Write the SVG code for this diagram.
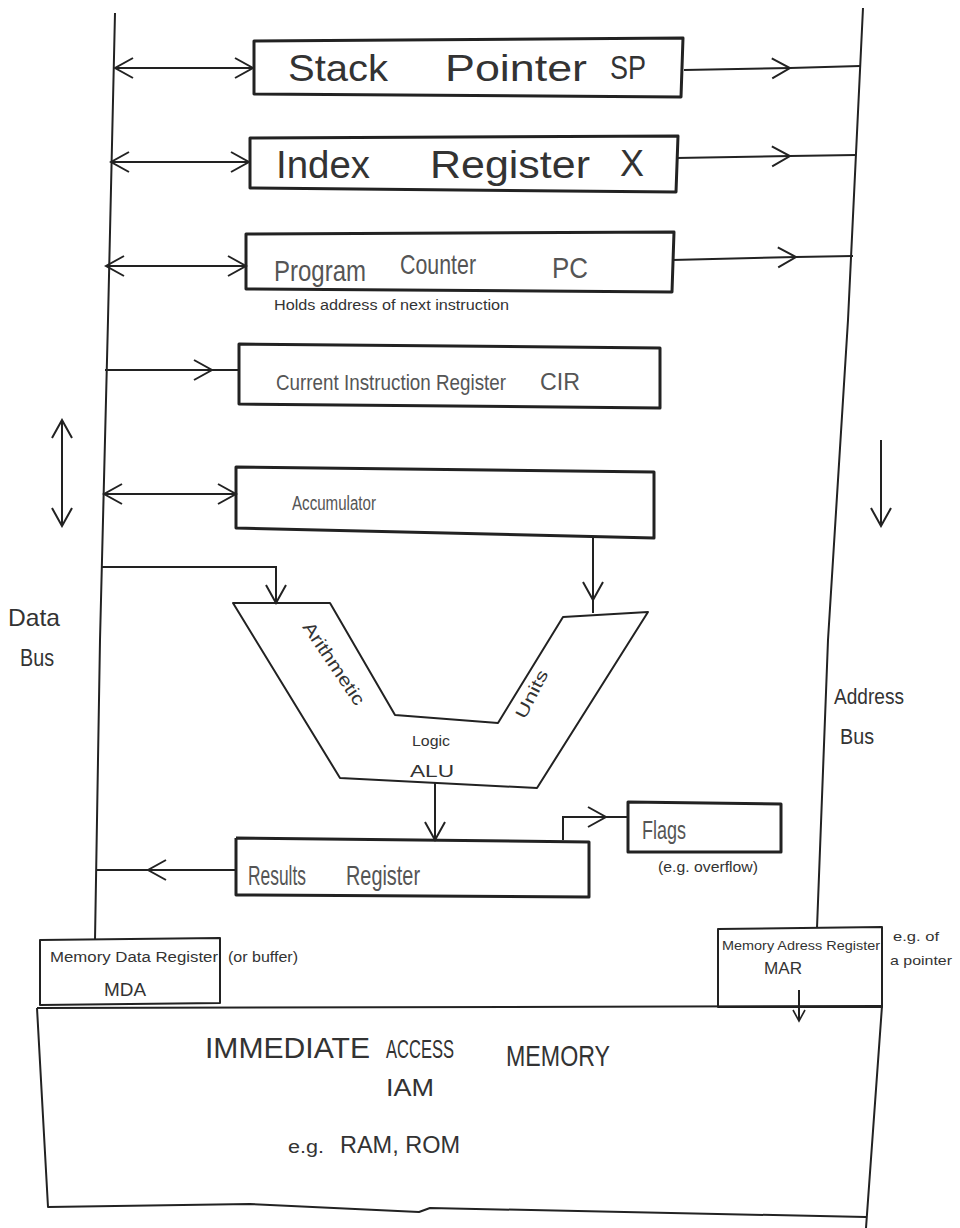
<svg xmlns="http://www.w3.org/2000/svg" width="960" height="1228" viewBox="0 0 960 1228">
<style>
  .box{fill:none;stroke:#222;stroke-width:3;stroke-linejoin:round}
  .thin{fill:none;stroke:#222;stroke-width:2;stroke-linejoin:round}
  .bus{fill:none;stroke:#222;stroke-width:2}
  .ln{fill:none;stroke:#222;stroke-width:2}
  .t{font-family:"Liberation Sans","DejaVu Sans",sans-serif;fill:#333}
  .tl{font-family:"Liberation Sans","DejaVu Sans",sans-serif;fill:#555}
</style>
<defs>
  <marker id="ah" viewBox="0 0 22 24" refX="20" refY="12" markerWidth="22" markerHeight="24" markerUnits="userSpaceOnUse" orient="auto-start-reverse">
    <path d="M2,2 L20,12 L2,22" fill="none" stroke="#222" stroke-width="2"/>
  </marker>
  <marker id="ahs" viewBox="0 0 14 14" refX="12" refY="7" markerWidth="14" markerHeight="14" markerUnits="userSpaceOnUse" orient="auto">
    <path d="M1,1 L12,7 L1,13" fill="none" stroke="#222" stroke-width="1.6"/>
  </marker>
</defs>
<rect width="960" height="1228" fill="#fff"/>

<g id="connectors">
  <!-- buses -->
  <polyline class="bus" points="115,13 108,320 100,640 95,940"/>
  <polyline class="bus" points="863,8 848,320 828,640 817,928"/>
  <!-- SP -->
  <path class="ln" d="M115,68 L253,68" marker-start="url(#ah)" marker-end="url(#ah)"/>
  <path class="ln" d="M684,70 L790,68 L860,66" marker-mid="url(#ah)"/>
  <!-- IX -->
  <path class="ln" d="M111,162 L249,162" marker-start="url(#ah)" marker-end="url(#ah)"/>
  <path class="ln" d="M676,158 L790,156 L856,155" marker-mid="url(#ah)"/>
  <!-- PC -->
  <path class="ln" d="M106,266 L246,266" marker-start="url(#ah)" marker-end="url(#ah)"/>
  <path class="ln" d="M672,260 L796,257 L853,256" marker-mid="url(#ah)"/>
  <!-- CIR -->
  <path class="ln" d="M105,370 L212,370 L239,370" marker-mid="url(#ah)"/>
  <!-- Accumulator -->
  <path class="ln" d="M104,494 L236,494" marker-start="url(#ah)" marker-end="url(#ah)"/>
  <!-- bus direction arrows -->
  <path class="ln" d="M62,420 L62,526" marker-start="url(#ah)" marker-end="url(#ah)"/>
  <path class="ln" d="M881,440 L881,526" marker-end="url(#ah)"/>
  <!-- data bus to ALU -->
  <path class="ln" d="M102,567 L276,567 L276,603" marker-end="url(#ah)"/>
  <!-- accumulator to ALU -->
  <path class="ln" d="M593,538 L593,600 L593,613" marker-mid="url(#ah)"/>
  <!-- ALU to results -->
  <path class="ln" d="M435,783 L435,840" marker-end="url(#ah)"/>
  <!-- results to flags -->
  <path class="ln" d="M563,840 L563,817 L606,817" marker-end="url(#ah)"/>
  <path class="ln" d="M606,817 L628,817"/>
  <!-- results to data bus -->
  <path class="ln" d="M236,870 L148,870 L97,870" marker-mid="url(#ah)"/>
  <!-- MAR to memory -->
  <path class="ln" d="M799,990 L799,1021" marker-end="url(#ahs)"/>
</g>

<g id="stack-pointer">
  <polygon class="box" points="254,41 683,38 681,97 254,94"/>
  <text class="t" x="288" y="81" font-size="36" textLength="100" lengthAdjust="spacingAndGlyphs">Stack</text>
  <text class="t" x="445" y="81" font-size="36" textLength="142" lengthAdjust="spacingAndGlyphs">Pointer</text>
  <text class="t" x="610" y="79" font-size="34" textLength="36" lengthAdjust="spacingAndGlyphs">SP</text>
</g>

<g id="index-register">
  <polygon class="box" points="250,138 678,136 676,192 250,188"/>
  <text class="t" x="276" y="178" font-size="38" textLength="94" lengthAdjust="spacingAndGlyphs">Index</text>
  <text class="t" x="430" y="178" font-size="38" textLength="160" lengthAdjust="spacingAndGlyphs">Register</text>
  <text class="t" x="620" y="176" font-size="36" textLength="24" lengthAdjust="spacingAndGlyphs">X</text>
</g>

<g id="program-counter">
  <polygon class="box" points="246,234 674,232 672,292 246,289"/>
  <text class="tl" x="274" y="281" font-size="30" textLength="92" lengthAdjust="spacingAndGlyphs">Program</text>
  <text class="tl" x="400" y="274" font-size="28" textLength="76" lengthAdjust="spacingAndGlyphs">Counter</text>
  <text class="tl" x="552" y="278" font-size="30" textLength="36" lengthAdjust="spacingAndGlyphs">PC</text>
  <text class="t" x="274" y="310" font-size="14" textLength="235" lengthAdjust="spacingAndGlyphs">Holds address of next instruction</text>
</g>

<g id="current-instruction-register">
  <polygon class="box" points="239,344 660,348 660,408 239,404"/>
  <text class="tl" font-size="18" transform="translate(276,390) scale(1,1.25)" textLength="230" lengthAdjust="spacingAndGlyphs">Current Instruction Register</text>
  <text class="tl" x="540" y="390" font-size="24" textLength="40" lengthAdjust="spacingAndGlyphs">CIR</text>
</g>

<g id="accumulator">
  <polygon class="box" points="236,467 654,472 654,538 236,528"/>
  <text class="tl" x="292" y="510" font-size="20" textLength="84" lengthAdjust="spacingAndGlyphs">Accumulator</text>
</g>

<g id="alu">
  <polygon class="thin" points="233,603 330,603 395,715 498,723 563,617 648,612 537,788 340,778"/>
  <text class="t" font-size="18" transform="translate(302,627) rotate(56)" textLength="96" lengthAdjust="spacingAndGlyphs">Arithmetic</text>
  <text class="t" font-size="17" transform="translate(525,720) rotate(-63)" textLength="52" lengthAdjust="spacingAndGlyphs">Units</text>
  <text class="t" x="412" y="746" font-size="15" textLength="38" lengthAdjust="spacingAndGlyphs">Logic</text>
  <text class="t" x="410" y="777" font-size="16" textLength="44" lengthAdjust="spacingAndGlyphs">ALU</text>
</g>

<g id="results-register">
  <polyline class="box" points="236,838 589,842 589,897 236,895 236,838"/>
  <text class="tl" x="248" y="885" font-size="28" textLength="58" lengthAdjust="spacingAndGlyphs">Results</text>
  <text class="tl" x="346" y="885" font-size="28" textLength="74" lengthAdjust="spacingAndGlyphs">Register</text>
</g>

<g id="flags">
  <polygon class="box" points="628,802 781,804 781,852 628,852"/>
  <text class="tl" x="642" y="839" font-size="26" textLength="44" lengthAdjust="spacingAndGlyphs">Flags</text>
  <text class="t" x="658" y="872" font-size="14" textLength="100" lengthAdjust="spacingAndGlyphs">(e.g. overflow)</text>
</g>

<g id="bus-labels">
  <text class="t" x="8" y="626" font-size="24" textLength="52" lengthAdjust="spacingAndGlyphs">Data</text>
  <text class="t" x="20" y="666" font-size="24" textLength="34" lengthAdjust="spacingAndGlyphs">Bus</text>
  <text class="t" x="834" y="704" font-size="22" textLength="70" lengthAdjust="spacingAndGlyphs">Address</text>
  <text class="t" x="840" y="744" font-size="22" textLength="34" lengthAdjust="spacingAndGlyphs">Bus</text>
</g>

<g id="mdr">
  <polygon class="thin" points="40,940 220,938 220,1003 40,1005"/>
  <text class="t" x="50" y="962" font-size="14" textLength="168" lengthAdjust="spacingAndGlyphs">Memory Data Register</text>
  <text class="t" x="228" y="962" font-size="14" textLength="70" lengthAdjust="spacingAndGlyphs">(or buffer)</text>
  <text class="t" x="104" y="996" font-size="18" textLength="42" lengthAdjust="spacingAndGlyphs">MDA</text>
</g>

<g id="mar">
  <polygon class="thin" points="718,929 882,927 882,1007 718,1007"/>
  <text class="t" x="722" y="950" font-size="13" textLength="158" lengthAdjust="spacingAndGlyphs">Memory Adress Register</text>
  <text class="t" x="764" y="974" font-size="17" textLength="38" lengthAdjust="spacingAndGlyphs">MAR</text>
  <text class="t" x="893" y="941" font-size="13" textLength="46" lengthAdjust="spacingAndGlyphs">e.g. of</text>
  <text class="t" x="890" y="965" font-size="13" textLength="62" lengthAdjust="spacingAndGlyphs">a pointer</text>
</g>

<g id="immediate-access-memory">
  <path class="thin" d="M37,1008 L882,1006 L866,1228 M37,1008 L48,1207 L250,1204 L419,1212 L430,1208 L866,1217"/>
  <text class="t" x="205" y="1058" font-size="30" textLength="165" lengthAdjust="spacingAndGlyphs">IMMEDIATE</text>
  <text class="t" x="386" y="1058" font-size="26" textLength="68" lengthAdjust="spacingAndGlyphs">ACCESS</text>
  <text class="t" x="506" y="1066" font-size="30" textLength="104" lengthAdjust="spacingAndGlyphs">MEMORY</text>
  <text class="t" x="386" y="1096" font-size="24" textLength="48" lengthAdjust="spacingAndGlyphs">IAM</text>
  <text class="t" x="288" y="1153" font-size="18" textLength="36" lengthAdjust="spacingAndGlyphs">e.g.</text>
  <text class="t" x="340" y="1153" font-size="24" textLength="120" lengthAdjust="spacingAndGlyphs">RAM, ROM</text>
</g>
</svg>
